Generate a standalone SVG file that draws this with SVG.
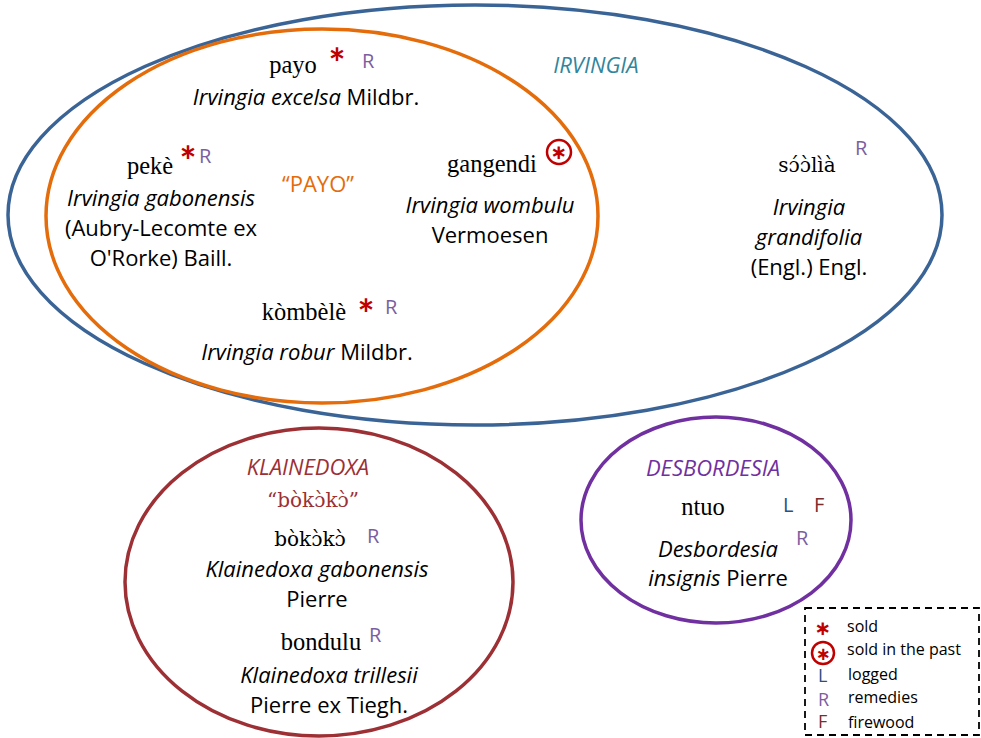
<svg xmlns="http://www.w3.org/2000/svg" width="981" height="738" viewBox="0 0 981 738">
<style>
.s{font-family:"Open Sans",Lato,"Liberation Sans",sans-serif;font-size:22px;fill:#000;text-anchor:middle}
.i{font-style:italic}
.f{font-family:"Liberation Serif","DejaVu Serif",serif;font-size:24.5px;fill:#000;text-anchor:middle}
.d{font-family:"DejaVu Serif","Liberation Serif",serif;font-size:20px}
.R{font-family:"Open Sans","Liberation Sans",sans-serif;font-size:20px;fill:#7a5ea0}
.L{font-family:"Open Sans","Liberation Sans",sans-serif;font-size:20px;fill:#2e4f7e}
.F{font-family:"Open Sans","Liberation Sans",sans-serif;font-size:20px;fill:#7b2c2c}
.st{font-family:Lato,"Liberation Sans",sans-serif;font-size:40px;fill:#c00000;text-anchor:middle;font-weight:bold}
.sm{font-family:"DejaVu Sans",sans-serif;font-size:20px;fill:#c00000;text-anchor:middle;font-weight:bold}
.leg{font-family:"Open Sans","Liberation Sans",sans-serif;font-size:16px;fill:#000}
.e{fill:none;stroke-width:3.5}
</style>
<g id="irvingia">
<ellipse class="e" cx="475" cy="215" rx="467" ry="210" stroke="#3b6496"/>
<text x="596" y="73" class="s i" style="fill:#31859c">IRVINGIA</text>
</g>
<g id="payo-group">
<ellipse class="e" cx="322" cy="216" rx="276" ry="187" stroke="#e46c0a"/>
<text x="318" y="192" class="s" style="fill:#e46c0a">“PAYO”</text>
</g>
<g id="payo">
<text x="293" y="73" class="f">payo</text>
<text x="337" y="78" class="st">*</text>
<text x="362" y="68" class="R">R</text>
<text x="306" y="105" class="s"><tspan class="i">Irvingia excelsa</tspan> Mildbr.</text>
</g>
<g id="peke">
<text x="150" y="174" class="f">pekè</text>
<text x="188" y="176" class="st">*</text>
<text x="199" y="163" class="R">R</text>
<text x="161" y="206" class="s i">Irvingia gabonensis</text>
<text x="161" y="236" class="s">(Aubry-Lecomte ex</text>
<text x="161" y="266" class="s">O'Rorke) Baill.</text>
</g>
<g id="gangendi">
<text x="492" y="172" class="f">gangendi</text>
<circle cx="559" cy="152" r="12" fill="none" stroke="#c00000" stroke-width="2.5"/>
<text x="559" y="159" class="sm">∗</text>
<text x="490" y="213" class="s i">Irvingia wombulu</text>
<text x="490" y="243" class="s">Vermoesen</text>
</g>
<g id="kombele">
<text x="304" y="320" class="f">kòmbèlè</text>
<text x="366" y="329" class="st">*</text>
<text x="385" y="314" class="R">R</text>
<text x="307" y="360" class="s"><tspan class="i">Irvingia robur</tspan> Mildbr.</text>
</g>
<g id="soolia">
<text x="807" y="172" class="f d">sɔ́ɔ̀lìà</text>
<text x="855" y="155" class="R">R</text>
<text x="809" y="215" class="s i">Irvingia</text>
<text x="809" y="245" class="s i">grandifolia</text>
<text x="809" y="275" class="s">(Engl.) Engl.</text>
</g>
<g id="klainedoxa">
<ellipse class="e" cx="319" cy="582" rx="194" ry="154" stroke="#9c3034"/>
<text x="308" y="475" class="s i" style="fill:#9c3034">KLAINEDOXA</text>
<text x="313" y="507" class="f d" style="fill:#9c3034">“bòkɔ̀kɔ̀”</text>
</g>
<g id="bokoko">
<text x="310" y="546" class="f d">bòkɔ̀kɔ̀</text>
<text x="367" y="543" class="R">R</text>
<text x="317" y="577" class="s i">Klainedoxa gabonensis</text>
<text x="317" y="607" class="s">Pierre</text>
</g>
<g id="bondulu">
<text x="321" y="650" class="f">bondulu</text>
<text x="369" y="642" class="R">R</text>
<text x="329" y="683" class="s i">Klainedoxa trillesii</text>
<text x="329" y="713" class="s">Pierre ex Tiegh.</text>
</g>
<g id="desbordesia">
<ellipse class="e" cx="716" cy="520" rx="135" ry="103" stroke="#7030a0"/>
<text x="713" y="476" class="s i" style="fill:#7030a0">DESBORDESIA</text>
</g>
<g id="ntuo">
<text x="703" y="515" class="f">ntuo</text>
<text x="783" y="512" class="L">L</text>
<text x="814" y="512" class="F">F</text>
<text x="796" y="545" class="R">R</text>
<text x="718" y="557" class="s i">Desbordesia</text>
<text x="718" y="586" class="s"><tspan class="i">insignis</tspan> Pierre</text>
</g>
<g id="legend">
<rect x="805" y="608" width="174" height="127" fill="none" stroke="#000" stroke-width="1.8" stroke-dasharray="7,5"/>
<text x="823" y="635" class="sm">∗</text>
<text x="847" y="632" class="leg">sold</text>
<circle cx="823" cy="653" r="11" fill="none" stroke="#c00000" stroke-width="2.5"/>
<text x="823" y="660" class="sm" style="font-size:18px">∗</text>
<text x="847" y="655" class="leg">sold in the past</text>
<text x="818" y="682" class="L" style="font-size:18px">L</text>
<text x="848" y="680" class="leg">logged</text>
<text x="818" y="706" class="R" style="font-size:18px">R</text>
<text x="848" y="703" class="leg">remedies</text>
<text x="818" y="728" class="F" style="font-size:18px">F</text>
<text x="848" y="728" class="leg">firewood</text>
</g>
</svg>
